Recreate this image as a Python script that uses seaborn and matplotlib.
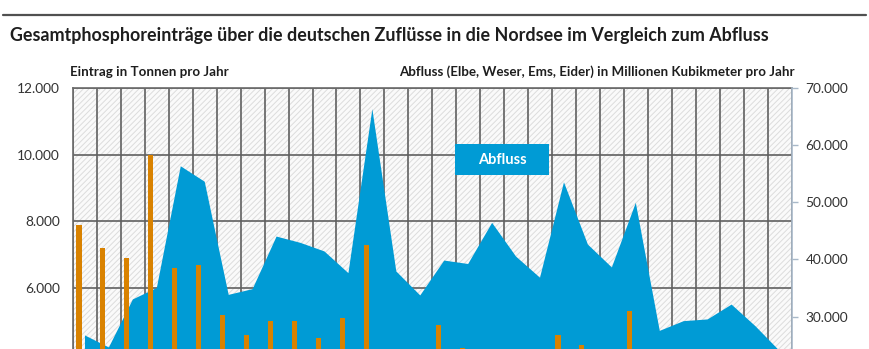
import numpy as np
import pandas as pd
import matplotlib
matplotlib.use("Agg")
import matplotlib.pyplot as plt
import seaborn as sns
from matplotlib.ticker import FuncFormatter, FixedLocator
from matplotlib.patches import Rectangle
from matplotlib.lines import Line2D

# ---------------- data ----------------
years = [1980, 1981, 1982, 1983, 1984, 1985, 1986, 1987, 1988, 1989,
         1990, 1991, 1992, 1993, 1994, 1995, 1996, 1997, 1998, 1999,
         2000, 2001, 2002, 2003, 2004, 2005, 2006, 2007, 2008, 2009]
# Gesamtphosphoreintrag, Tonnen pro Jahr (left axis)
eintrag = [7900, 7200, 6900, 10000, 6600, 6700, 5200, 4600, 5000, 5000,
           4500, 5100, 7300, 4000, 3900, 4900, 4200, 3900, 3800, 3700,
           4600, 4300, 3800, 5300, 3400, 3500, 3400, 3300, 3100, 3000]
# Abfluss, Millionen Kubikmeter pro Jahr (right axis)
abfluss = [26700, 24600, 33000, 35000, 56300, 53600, 33800, 34800, 44000, 42900,
           41400, 37600, 66300, 37900, 33700, 39800, 39200, 46400, 40500, 36800,
           53500, 42600, 38600, 49900, 27500, 29200, 29500, 32100, 28300, 24000]

left_ticks = [6000, 8000, 10000, 12000]
left_grid = [0, 2000, 4000, 6000, 8000, 10000, 12000]
right_ticks = [30000, 40000, 50000, 60000, 70000]

title = "Gesamtphosphoreinträge über die deutschen Zuflüsse in die Nordsee im Vergleich zum Abfluss"
left_label = "Eintrag in Tonnen pro Jahr"
right_label = "Abfluss (Elbe, Weser, Ems, Eider) in Millionen Kubikmeter pro Jahr"
legend_label = "Abfluss"

df = pd.DataFrame({"jahr": years, "eintrag": eintrag, "abfluss": abfluss})
df["pos"] = np.arange(len(df))
df["bar_pos"] = df["pos"] - 0.25

BLUE = "#009bd5"
ORANGE = "#d98200"
GRID = "#606060"
TXT = "#1e1e1e"

sns.set_theme(style="white")
plt.rcParams["font.family"] = ["Lato", "DejaVu Sans"]
plt.rcParams["hatch.linewidth"] = 0.7

W, H = 870, 349
fig = plt.figure(figsize=(W / 100, H / 100), dpi=100)
fig.patch.set_facecolor("white")

rect = [73 / W, 1 - 488 / H, (791.5 - 73) / W, 400 / H]
ax_bg = fig.add_axes(rect)
ax_flow = fig.add_axes(rect, sharex=ax_bg)
ax_bar = fig.add_axes(rect, sharex=ax_bg)
ax_bg.set_zorder(0)
ax_flow.set_zorder(1)
ax_bar.set_zorder(2)
ax_flow.patch.set_visible(False)
ax_bar.patch.set_visible(False)

fmt = FuncFormatter(lambda v, p: f"{v:,.0f}".replace(",", "."))

# background: hatch + grid
ax_bg.add_patch(Rectangle((0, 0), 1, 1, transform=ax_bg.transAxes,
                          facecolor="#fafafa", edgecolor="#dcdcdc", hatch="//////",
                          linewidth=0, zorder=-1))
ax_bg.set_xlim(-0.5, len(df) - 0.5)
ax_bg.set_ylim(0, 12000)
for g in left_grid:
    ax_bg.axhline(g, color=GRID, linewidth=1.2, zorder=0.5)
for xb in np.arange(-0.5, len(df), 1.0):
    ax_bg.axvline(xb, color=GRID, linewidth=1.2, zorder=0.5)
ax_bg.yaxis.set_major_locator(FixedLocator(left_ticks))
ax_bg.yaxis.set_major_formatter(fmt)
ax_bg.set_xticks([])
ax_bg.tick_params(axis="y", length=0, pad=9.5, labelsize=9.9, labelcolor="#333333")
for s in ["right", "bottom"]:
    ax_bg.spines[s].set_visible(False)
for s in ["top", "left"]:
    ax_bg.spines[s].set_color("#6a6a6a")
    ax_bg.spines[s].set_linewidth(1.2)

# area (right axis)
ax_flow.fill_between(df["pos"], df["abfluss"], color=BLUE, linewidth=0)
ax_flow.set_ylim(0, 70000)
ax_flow.yaxis.tick_right()
ax_flow.yaxis.set_major_locator(FixedLocator(right_ticks))
ax_flow.yaxis.set_major_formatter(fmt)
ax_flow.tick_params(axis="y", length=4, width=1, color="#a8b8c8", pad=6,
                    labelsize=9.9, labelcolor="#333333")
ax_flow.tick_params(axis="x", length=0, labelbottom=False)
for s in ["left", "top", "bottom"]:
    ax_flow.spines[s].set_visible(False)
ax_flow.spines["right"].set_color("#a8b8c8")
ax_flow.spines["right"].set_linewidth(1.2)

# bars (left axis scale)
sns.barplot(data=df, x="bar_pos", y="eintrag", native_scale=True, width=0.21,
            color=ORANGE, saturation=1, linewidth=0, ax=ax_bar)
ax_bar.set_xlim(-0.5, len(df) - 0.5)
ax_bar.set_ylim(0, 12000)
ax_bar.set_xlabel("")
ax_bar.set_ylabel("")
ax_bar.tick_params(left=False, bottom=False, labelleft=False, labelbottom=False)
for s in ax_bar.spines.values():
    s.set_visible(False)

# texts
fig.add_artist(Line2D([3 / W, 866 / W], [1 - 15 / H, 1 - 15 / H],
                      color="#505050", linewidth=1.6))
fig.text(10 / W, 1 - 35 / H, title, fontsize=12.9, fontweight="bold",
         color=TXT, va="center", ha="left")
fig.text(70 / W, 1 - 72 / H, left_label, fontsize=9.6, fontweight="bold",
         color=TXT, va="center", ha="left")
fig.text(795 / W, 1 - 72 / H, right_label, fontsize=9.6, fontweight="bold",
         color=TXT, va="center", ha="right")

# legend box
fig.add_artist(Rectangle((455 / W, 1 - 175 / H), 94 / W, 31 / H,
                         transform=fig.transFigure, facecolor=BLUE,
                         edgecolor="none", zorder=10))
fig.text(502 / W, 1 - 159.5 / H, legend_label, fontsize=10.5, fontweight="bold",
         color="white", va="center", ha="center", zorder=11)

fig.savefig("out.png", dpi=100)
